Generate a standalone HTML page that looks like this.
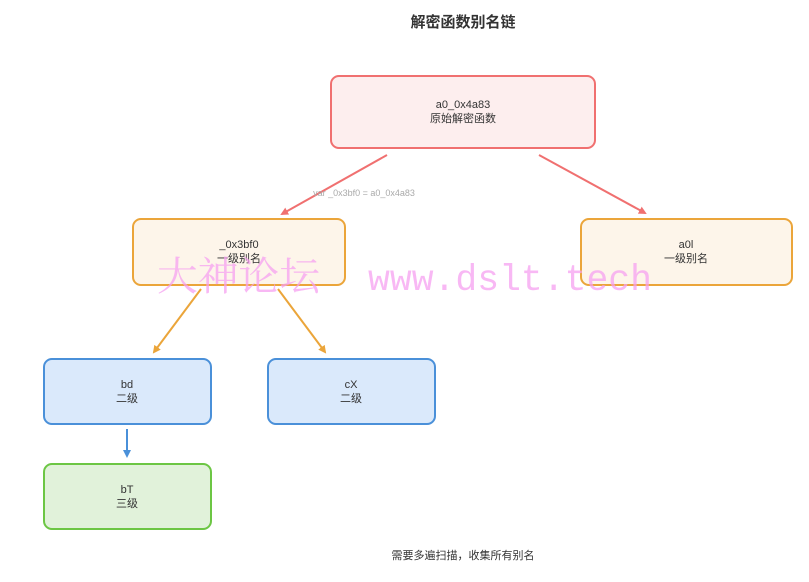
<!DOCTYPE html>
<html><head><meta charset="utf-8"><style>
html,body{margin:0;padding:0;background:#fff;width:809px;height:582px;overflow:hidden}
svg{display:block}
text{font-family:"Liberation Sans","Noto Sans CJK SC",sans-serif}
</style></head><body>
<svg width="809" height="582" viewBox="0 0 809 582" xmlns="http://www.w3.org/2000/svg">
<defs>
<marker id="mr" markerWidth="8" markerHeight="8" refX="6" refY="4" orient="auto" markerUnits="userSpaceOnUse"><path d="M0,0 L8,4 L0,8 Z" fill="#f07070"/></marker>
<marker id="mo" markerWidth="8" markerHeight="8" refX="6" refY="4" orient="auto" markerUnits="userSpaceOnUse"><path d="M0,0 L8,4 L0,8 Z" fill="#eba53a"/></marker>
<marker id="mb" markerWidth="8" markerHeight="8" refX="6" refY="4" orient="auto" markerUnits="userSpaceOnUse"><path d="M0,0 L8,4 L0,8 Z" fill="#4a90d9"/></marker>
</defs>
<text x="463" y="27" text-anchor="middle" font-size="15" font-weight="bold" fill="#333">解密函数别名链</text>

<rect x="331" y="76" width="264" height="72" rx="8" fill="#fdeeee" stroke="#f07070" stroke-width="2"/>
<text x="463" y="108" text-anchor="middle" font-size="11" fill="#333">a0_0x4a83</text>
<text x="463" y="122" text-anchor="middle" font-size="11" fill="#333">原始解密函数</text>

<line x1="387" y1="155" x2="282" y2="214" stroke="#f07070" stroke-width="2" marker-end="url(#mr)"/>
<line x1="539" y1="155" x2="645" y2="213" stroke="#f07070" stroke-width="2" marker-end="url(#mr)"/>
<text x="364" y="196" text-anchor="middle" font-size="9" fill="#aaa">var _0x3bf0 = a0_0x4a83</text>

<rect x="133" y="219" width="212" height="66" rx="8" fill="#fdf5ea" stroke="#eba53a" stroke-width="2"/>
<text x="239" y="248" text-anchor="middle" font-size="11" fill="#333">_0x3bf0</text>
<text x="239" y="262" text-anchor="middle" font-size="11" fill="#333">一级别名</text>

<rect x="581" y="219" width="211" height="66" rx="8" fill="#fdf5ea" stroke="#eba53a" stroke-width="2"/>
<text x="686" y="248" text-anchor="middle" font-size="11" fill="#333">a0l</text>
<text x="686" y="262" text-anchor="middle" font-size="11" fill="#333">一级别名</text>

<line x1="201" y1="289" x2="154" y2="352" stroke="#eba53a" stroke-width="2" marker-end="url(#mo)"/>
<line x1="278" y1="289" x2="325" y2="352" stroke="#eba53a" stroke-width="2" marker-end="url(#mo)"/>

<rect x="44" y="359" width="167" height="65" rx="8" fill="#dae9fb" stroke="#4a90d9" stroke-width="2"/>
<text x="127" y="388" text-anchor="middle" font-size="11" fill="#333">bd</text>
<text x="127" y="402" text-anchor="middle" font-size="11" fill="#333">二级</text>

<rect x="268" y="359" width="167" height="65" rx="8" fill="#dae9fb" stroke="#4a90d9" stroke-width="2"/>
<text x="351" y="388" text-anchor="middle" font-size="11" fill="#333">cX</text>
<text x="351" y="402" text-anchor="middle" font-size="11" fill="#333">二级</text>

<line x1="127" y1="429" x2="127" y2="456" stroke="#4a90d9" stroke-width="2" marker-end="url(#mb)"/>

<rect x="44" y="464" width="167" height="65" rx="8" fill="#e1f2da" stroke="#6cc644" stroke-width="2"/>
<text x="127" y="493" text-anchor="middle" font-size="11" fill="#333">bT</text>
<text x="127" y="507" text-anchor="middle" font-size="11" fill="#333">三级</text>

<text x="463" y="559" text-anchor="middle" font-size="11" fill="#333">需要多遍扫描，收集所有别名</text>

<text x="157" y="290" font-size="40" fill="#f5a0f0" fill-opacity="0.75" textLength="163" lengthAdjust="spacingAndGlyphs" style="font-family:'Noto Serif CJK SC',serif">大神论坛</text>
<text x="368" y="290" font-size="37" fill="#f5a0f0" fill-opacity="0.75" textLength="284" lengthAdjust="spacingAndGlyphs" style="font-family:'Liberation Mono',monospace">www.dslt.tech</text>
</svg>
</body></html>
